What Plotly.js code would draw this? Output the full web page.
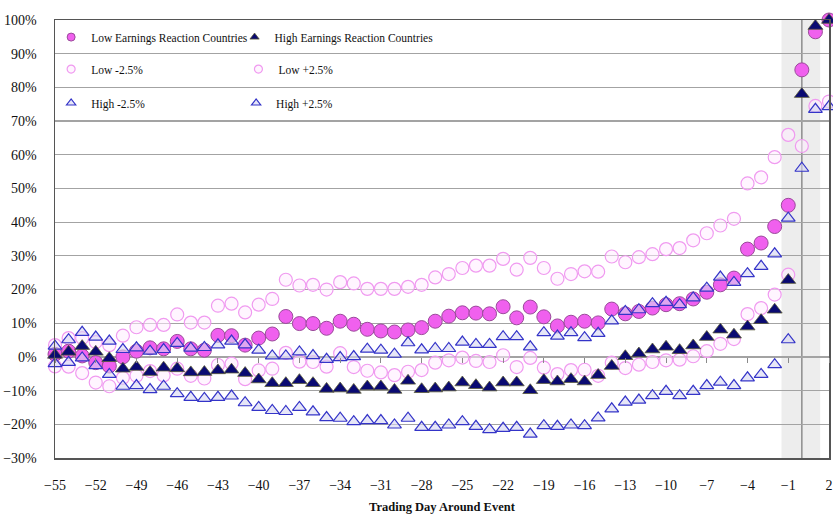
<!DOCTYPE html>
<html>
<head>
<meta charset="utf-8">
<script src="https://cdn.plot.ly/plotly-3.0.1.min.js"></script>
<style>
  html, body { margin: 0; padding: 0; background: #fff; }
  #chart { width: 833px; height: 514px; }
</style>
</head>
<body>
<div id="chart"></div>
<script>
// Trading days relative to the event (day 0)
const days = [-55,-54,-53,-52,-51,-50,-49,-48,-47,-46,-45,-44,-43,-42,-41,-40,-39,-38,-37,-36,
  -35,-34,-33,-32,-31,-30,-29,-28,-27,-26,-25,-24,-23,-22,-21,-20,-19,-18,-17,-16,
  -15,-14,-13,-12,-11,-10,-9,-8,-7,-6,-5,-4,-3,-2,-1,0,1,2];

// Cumulative reaction (%) for low earnings reaction countries
const lowMain = [0.8,1.7,0.3,-1.7,-2.7,0.0,1.7,2.7,2.4,4.6,2.4,2.0,6.4,6.3,3.5,5.6,6.8,12.0,9.9,9.9,
  8.5,10.6,9.7,8.2,7.7,7.4,8.0,8.7,10.6,12.1,13.1,13.0,12.8,14.9,11.6,14.8,11.9,9.2,10.3,10.6,
  10.1,14.2,12.8,13.5,14.5,15.5,15.8,17.2,19.2,21.4,23.4,32.0,33.8,38.7,45.0,85.2,96.5,100.0];

// Cumulative reaction (%) for high earnings reaction countries
const highMain = [0.6,1.5,3.2,1.5,-0.4,-3.5,-3.0,-4.5,-3.2,-3.4,-4.6,-4.5,-4.0,-3.8,-4.8,-6.7,-7.8,-7.8,-6.9,-7.8,
  -9.5,-9.4,-9.8,-8.8,-8.8,-9.8,-7.1,-9.6,-9.4,-9.1,-7.6,-8.4,-9.1,-7.6,-7.6,-9.9,-6.9,-7.3,-6.6,-7.3,
  -5.4,-2.7,0.2,1.0,2.2,3.0,2.0,3.4,5.9,8.1,6.6,9.0,10.9,14.0,22.8,78.0,98.2,100.0];

// Bands around each group
const lowMinus = [-2.8,-2.9,-4.8,-7.6,-8.7,-6.2,-5.6,-4.2,-5.5,-3.5,-5.6,-6.4,-2.4,-2.0,-6.6,-4.0,-3.5,1.2,-1.4,-1.5,
  -2.9,1.1,-3.0,-4.1,-4.6,-5.4,-4.4,-3.9,-1.7,-1.0,-0.2,-1.2,-1.5,0.5,-3.0,-0.3,-3.2,-5.1,-3.9,-3.8,
  -5.6,-1.7,-3.3,-2.3,-1.5,-1.0,-0.8,0.2,1.7,3.9,5.3,12.7,14.5,18.5,24.4,62.6,74.5,75.8];

const lowPlus = [3.5,5.6,5.6,4.4,3.5,6.3,8.8,9.5,9.5,12.6,10.2,10.2,15.2,15.8,13.2,15.5,17.2,22.9,21.2,21.4,
  20.0,22.2,21.8,20.2,20.2,20.2,20.8,21.4,23.6,24.6,26.4,27.1,27.1,29.1,25.9,29.4,26.4,23.2,24.6,25.4,
  25.3,29.8,28.1,29.6,30.5,32.0,32.3,34.6,36.7,39.0,41.0,51.5,53.3,59.3,65.9,null,null,null];

const highMinus = [-2.0,-1.6,-0.3,-2.6,-5.2,-8.7,-8.5,-9.7,-8.7,-10.9,-12.0,-12.3,-12.0,-11.6,-13.6,-15.0,-15.9,-16.2,-15.0,-16.3,
  -18.0,-18.2,-19.2,-18.9,-18.9,-20.2,-18.2,-20.9,-20.9,-20.2,-19.2,-20.6,-21.6,-21.2,-20.9,-22.9,-20.4,-20.6,-20.2,-20.4,
  -18.1,-15.4,-13.4,-12.8,-11.5,-10.2,-11.5,-10.2,-8.5,-7.5,-8.5,-6.2,-5.2,-2.3,5.1,56.0,73.5,74.3];

const highPlus = [3.2,5.1,7.3,5.9,4.7,2.2,2.7,1.7,2.2,4.0,2.6,2.8,3.6,4.7,3.6,2.0,0.3,0.3,1.5,0.4,
  -0.7,-0.2,0.1,2.3,2.0,0.8,4.2,2.1,2.5,2.5,4.4,3.7,3.7,6.0,6.0,3.0,7.2,6.2,7.2,5.7,
  7.0,10.7,13.5,14.0,15.8,16.2,15.5,17.5,20.4,23.7,22.1,24.7,26.9,30.6,41.2,null,null,null];

const seriesNames = ['Low Earnings Reaction Countries', 'High Earnings Reaction Countries',
  'Low -2.5%', 'Low +2.5%', 'High -2.5%', 'High +2.5%'];

const FONT = 'Liberation Serif, Times New Roman, serif';

const styles = {
  lowMain:  {symbol: 'circle', color: '#f060ee', line: {color: '#9a4a9a', width: 1}},
  highMain: {symbol: 'triangle-up', color: '#0a0a72', line: {color: '#5a5a38', width: 0.8}},
  lowBand:  {symbol: 'circle', color: 'rgba(255,236,255,0.55)', line: {color: '#f09af0', width: 1.2}},
  highBand: {symbol: 'triangle-up', color: 'rgba(214,214,242,0.6)', line: {color: '#3434c8', width: 1.2}}
};

function dataTrace(y, name, st, size) {
  return {
    x: days, y: y, type: 'scatter', mode: 'markers', name: name,
    showlegend: false, legendgroup: name, cliponaxis: false, hoverinfo: 'x+y+name',
    marker: {symbol: st.symbol, size: size, color: st.color, line: st.line}
  };
}

// Legend-only entries, drawn with smaller symbols, one legend box per entry
function legendTrace(name, st, legendId) {
  return {
    x: [null], y: [null], type: 'scatter', mode: 'markers', name: name,
    legend: legendId, legendgroup: name, showlegend: true,
    marker: {symbol: st.symbol, size: 8, color: st.color, line: st.line}
  };
}

const traces = [
  dataTrace(lowMinus, seriesNames[2], styles.lowBand, 13),
  dataTrace(lowPlus, seriesNames[3], styles.lowBand, 13),
  dataTrace(lowMain, seriesNames[0], styles.lowMain, 14),
  dataTrace(highMinus, seriesNames[4], styles.highBand, 12),
  dataTrace(highPlus, seriesNames[5], styles.highBand, 12),
  dataTrace(highMain, seriesNames[1], styles.highMain, 13),
  legendTrace(seriesNames[0], styles.lowMain, 'legend'),
  legendTrace(seriesNames[1], styles.highMain, 'legend2'),
  legendTrace(seriesNames[2], styles.lowBand, 'legend3'),
  legendTrace(seriesNames[3], styles.lowBand, 'legend4'),
  legendTrace(seriesNames[4], styles.highBand, 'legend5'),
  legendTrace(seriesNames[5], styles.highBand, 'legend6'),
  // carries the tick marks along the zero line
  {x: [0], y: [null], type: 'scatter', mode: 'markers', xaxis: 'x2', yaxis: 'y',
   showlegend: false, hoverinfo: 'skip'}
];

function legendBox(xPos, yPos) {
  return {
    orientation: 'h', x: xPos, xanchor: 'left', y: yPos, yanchor: 'middle',
    bgcolor: 'rgba(0,0,0,0)', borderwidth: 0,
    font: {family: FONT, size: 11.5, color: '#111'}
  };
}

const COL1 = -0.005, COL2 = 0.232;

const layout = {
  width: 833, height: 514,
  margin: {l: 55, r: 4, t: 20, b: 56},
  paper_bgcolor: '#ffffff', plot_bgcolor: '#ffffff',
  font: {family: FONT, color: '#111'},
  showlegend: true,
  legend: legendBox(COL1, 0.961),
  legend2: legendBox(COL2, 0.961),
  legend3: legendBox(COL1, 0.888),
  legend4: legendBox(COL2 + 0.005, 0.888),
  legend5: legendBox(COL1, 0.8105),
  legend6: legendBox(COL2 + 0.002, 0.8105),
  xaxis: {
    range: [-55, 2], tick0: -55, dtick: 3, tickmode: 'linear',
    showgrid: false, zeroline: false,
    showline: true, mirror: true, linecolor: '#555', linewidth: 1.5,
    ticks: '', ticklabelstandoff: 14,
    tickfont: {family: FONT, size: 14, color: '#111'},
    title: {text: '<b>Trading Day Around Event</b>', font: {family: FONT, size: 12.5, color: '#111'}, standoff: 10}
  },
  xaxis2: {
    overlaying: 'x', anchor: 'free', position: 30 / 130, side: 'bottom',
    range: [-55, 2], tick0: -55, dtick: 3, tickmode: 'linear', autorange: false,
    showticklabels: false, showgrid: false, zeroline: false, showline: false,
    ticks: 'outside', ticklen: 5, tickwidth: 1, tickcolor: '#8a8a8a'
  },
  yaxis: {
    range: [-30, 100], dtick: 10, tick0: 0, tickmode: 'linear', ticksuffix: '%',
    showgrid: true, gridcolor: '#a3a3a3', gridwidth: 1.2,
    zeroline: false,
    showline: true, mirror: true, linecolor: '#555', linewidth: 1.5,
    ticks: '', ticklabelstandoff: 14,
    tickfont: {family: FONT, size: 14, color: '#111'}
  },
  shapes: [
    // event window
    {type: 'rect', xref: 'x', yref: 'paper', x0: -1.5, x1: 1.35, y0: 0, y1: 1,
     fillcolor: 'rgba(200,200,200,0.32)', line: {width: 0}, layer: 'below'},
    // event day marker
    {type: 'line', xref: 'x', yref: 'paper', x0: 0, x1: 0, y0: 0, y1: 1,
     line: {color: '#8c8c8c', width: 1.5}, layer: 'below'}
  ]
};

Plotly.newPlot('chart', traces, layout, {displayModeBar: false, staticPlot: true});
</script>
</body>
</html>
